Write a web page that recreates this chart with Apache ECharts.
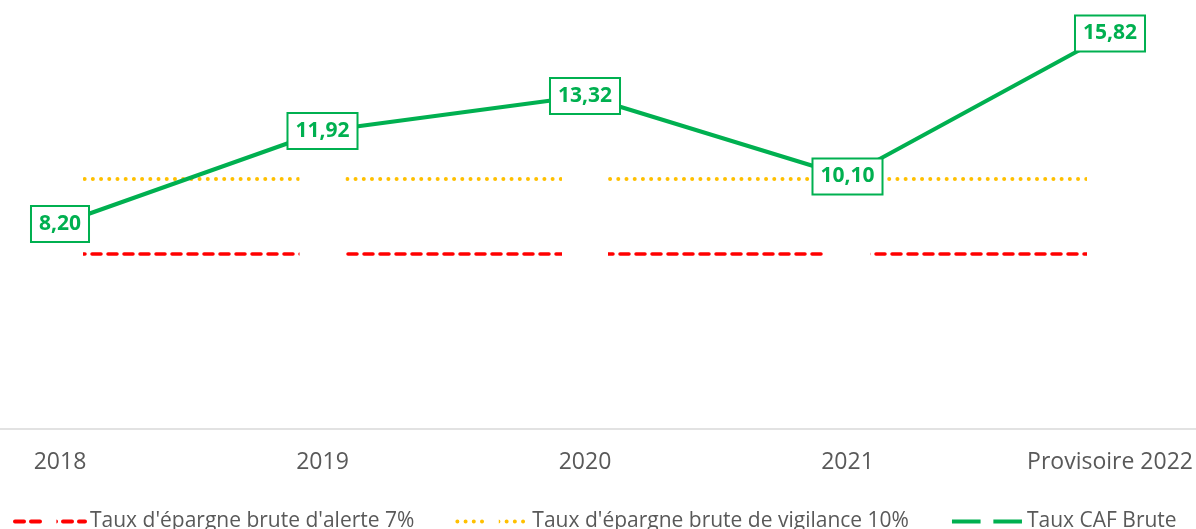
<!DOCTYPE html>
<html>
<head>
<meta charset="utf-8">
<script src="https://cdn.jsdelivr.net/npm/echarts@6/dist/echarts.min.js"></script>
<style>
html,body{margin:0;padding:0;background:#fff;}
#chart{width:1196px;height:529px;}
</style>
</head>
<body>
<div id="chart"></div>
<script>
var categories = ['2018', '2019', '2020', '2021', 'Provisoire 2022'];
var seriesNames = ["Taux d'épargne brute d'alerte 7%", "Taux d'épargne brute de vigilance 10%", 'Taux CAF Brute'];
var alerte = [7, 7, 7, 7, 7];
var vigilance = [10, 10, 10, 10, 10];
var cafBrute = [8.20, 11.92, 13.32, 10.10, 15.82];

var FONT = 'Open Sans';
var chart = echarts.init(document.getElementById('chart'), null, {renderer: 'canvas'});
chart.setOption({
  animation: false,
  backgroundColor: '#ffffff',
  grid: [
    {left: 60, right: 86, top: 29, bottom: 100, containLabel: false},
    {left: 0, right: 0, top: 29, bottom: 100, containLabel: false}
  ],
  xAxis: [
    {
      type: 'category', gridIndex: 0, data: categories, boundaryGap: false,
      axisLine: {show: false}, axisTick: {show: false}, splitLine: {show: false},
      axisLabel: {color: '#595959', fontFamily: FONT, fontSize: 23, margin: 22, interval: 0}
    },
    {
      type: 'value', gridIndex: 1, min: 0, max: 1,
      axisLine: {show: true, lineStyle: {color: '#D9D9D9', width: 1.5}},
      axisTick: {show: false}, axisLabel: {show: false}, splitLine: {show: false}
    }
  ],
  yAxis: [
    {type: 'value', gridIndex: 0, min: 0, max: 16, show: false, splitLine: {show: false}},
    {type: 'value', gridIndex: 1, min: 0, max: 1, show: false, splitLine: {show: false}}
  ],
  legend: {
    left: 8, top: 506,
    itemWidth: 70, itemHeight: 16, itemGap: 41,
    textStyle: {color: '#595959', fontFamily: FONT, fontSize: 21},
    data: [
      {name: seriesNames[0], lineStyle: {color: '#FF0000', width: 4, type: [9, 7], cap: 'round'}},
      {name: seriesNames[1], lineStyle: {color: '#FFC000', width: 4, type: [0.01, 8.2], cap: 'round'}},
      {name: seriesNames[2], lineStyle: {color: '#00B050', width: 4}}
    ]
  },
  series: [
    {
      name: seriesNames[0], type: 'line', data: alerte,
      symbol: 'rect', symbolSize: [46, 12], showSymbol: true,
      itemStyle: {color: '#ffffff'},
      lineStyle: {color: '#FF0000', width: 3.5, type: [9, 7], cap: 'round'},
      emphasis: {disabled: true}, silent: true
    },
    {
      name: seriesNames[1], type: 'line', data: vigilance,
      symbol: 'rect', symbolSize: [46, 12], showSymbol: true,
      itemStyle: {color: '#ffffff'},
      lineStyle: {color: '#FFC000', width: 4, type: [0.01, 8.2], cap: 'round'},
      emphasis: {disabled: true}, silent: true
    },
    {
      name: seriesNames[2], type: 'line', data: cafBrute,
      symbol: 'rect', symbolSize: 10, showSymbol: true,
      itemStyle: {color: '#ffffff'},
      lineStyle: {color: '#00B050', width: 4},
      label: {
        show: true, position: 'inside',
        formatter: function (p) { return p.value.toFixed(2).replace('.', ','); },
        color: '#00B050', fontFamily: FONT, fontWeight: 'bold', fontSize: 21,
        lineHeight: 24,
        backgroundColor: '#ffffff', borderColor: '#00B050', borderWidth: 2,
        padding: [5, 7, 5, 7]
      },
      emphasis: {disabled: true}, silent: true
    }
  ]
});
</script>
</body>
</html>
